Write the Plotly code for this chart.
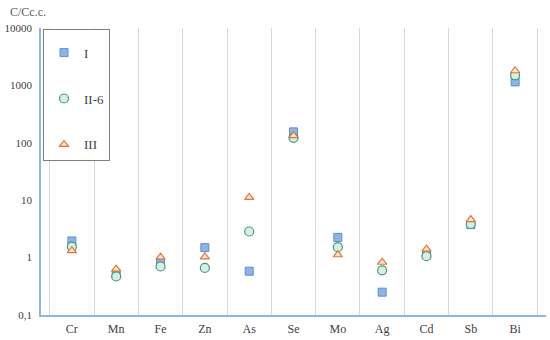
import plotly.graph_objects as go

elements = ["Cr", "Mn", "Fe", "Zn", "As", "Se", "Mo", "Ag", "Cd", "Sb", "Bi"]
series_I = [1.95, 0.52, 0.80, 1.49, 0.58, 155, 2.25, 0.25, 1.15, 3.75, 1150]
series_II6 = [1.55, 0.47, 0.70, 0.66, 2.85, 122, 1.52, 0.60, 1.06, 3.85, 1500]
series_III = [1.32, 0.63, 1.02, 1.03, 11.2, 133, 1.12, 0.83, 1.40, 4.6, 1800]
ytick_vals = [0.1, 1, 10, 100, 1000, 10000]
ytick_text = ["0,1", "1", "10", "100", "1000", "10000"]

font_family = "Liberation Serif"
gray = "#595959"
dark = "#404040"

fig = go.Figure()
fig.add_trace(go.Scatter(
    x=elements, y=series_I, mode="markers", name="I", legendgroup="a",
    marker=dict(symbol="square", size=8, color="#8fb4e3",
                line=dict(color="#5b8fd0", width=1))))
fig.add_trace(go.Scatter(
    x=elements, y=series_II6, mode="markers", name="II-6", legendgroup="b",
    marker=dict(symbol="circle", size=9, color="#d6efe2",
                line=dict(color="#4a9484", width=1.2))))
fig.add_trace(go.Scatter(
    x=elements, y=series_III, mode="markers", name="III", legendgroup="c",
    marker=dict(symbol="triangle-up", size=8, color="#fbe4d4",
                line=dict(color="#e0773a", width=1.2))))

fig.update_layout(
    width=550, height=340,
    margin=dict(l=41, r=4, t=28, b=25, autoexpand=False),
    paper_bgcolor="white", plot_bgcolor="white",
    font=dict(family=font_family, size=12, color=gray),
    showlegend=True,
    legend=dict(x=0.004, y=0.997, xanchor="left", yanchor="top",
                bordercolor="#7f7f7f", borderwidth=1, bgcolor="white",
                tracegroupgap=26, itemwidth=30,
                title=dict(text=" ", font=dict(size=6)),
                font=dict(family=font_family, size=13, color=dark)),
    xaxis=dict(type="category", tickson="boundaries", showgrid=True,
               gridcolor="#d9d9d9", gridwidth=1, showline=True,
               linecolor="#8fb4e3", linewidth=1.5, ticks="",
               automargin=False, ticklabelstandoff=2,
               tickfont=dict(family=font_family, size=12, color=dark),
               zeroline=False),
    yaxis=dict(type="log", range=[-1, 4], tickvals=ytick_vals,
               ticktext=ytick_text, showgrid=False, showline=True,
               linecolor="#8fb4e3", linewidth=1.5, ticks="",
               automargin=False, ticklabelstandoff=5,
               tickfont=dict(family=font_family, size=11, color=dark),
               zeroline=False),
    annotations=[dict(text="C/Cc.c.", xref="paper", yref="paper",
                      x=0, xshift=-33, y=1.0, yshift=16, xanchor="left",
                      yanchor="middle", showarrow=False,
                      font=dict(family=font_family, size=12, color=gray))],
)

fig.write_html("out.html", config={"displayModeBar": False},
               post_script="document.body.style.margin='0';document.body.style.padding='0';")
